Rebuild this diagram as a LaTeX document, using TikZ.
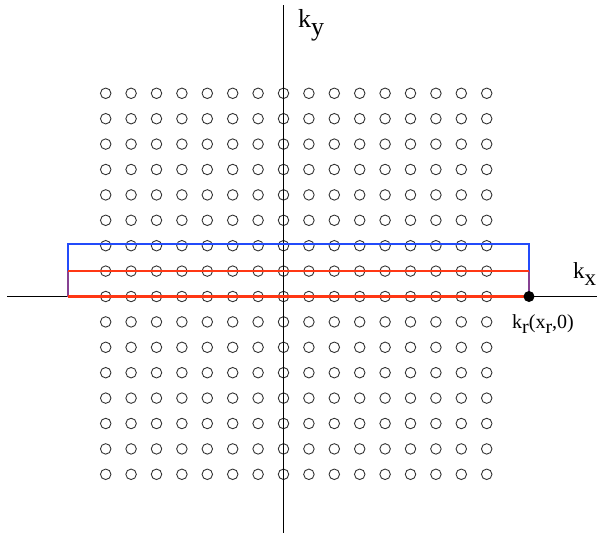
\documentclass[tikz,border=0pt]{standalone}
\usepackage{fontspec}
\setmainfont{Liberation Serif}
\definecolor{kblue}{RGB}{35,75,250}
\definecolor{kred}{RGB}{255,55,20}
\begin{document}
\begin{tikzpicture}[x=1pt,y=-1pt,
  lat/.style={circle,draw=black!80,line width=0.9pt,minimum size=10.5pt,inner sep=0pt},
  axisline/.style={black,line width=0.9pt},
  bluebox/.style={kblue,line width=2pt},
  redbox/.style={kred,line width=2pt},
  lbl/.style={inner sep=0pt,anchor=base west}]
\useasboundingbox (0,0) rectangle (599,536);
\foreach \i in {0,...,15}{\foreach \j in {0,...,15}{
  \node[lat] (c-\i-\j) at ({105.7+25.4*\i},{93.3+25.4*\j}) {};
}}
\coordinate (xl) at (7,296.5);
\coordinate (xr) at (597,296.5);
\coordinate (yt) at (283.5,5);
\coordinate (yb) at (283.5,533);
\draw[axisline] (xl) -- (xr);
\draw[axisline] (yt) -- (yb);
\coordinate (bl) at (68,296.5);
\coordinate (br) at (529,296.5);
\coordinate (btl) at (68,244);
\coordinate (btr) at (529,244);
\coordinate (rtl) at (68,271);
\coordinate (rtr) at (529,271);
\draw[bluebox] (bl) -- (btl) -- (btr) -- (br);
\draw[redbox] (rtl) -- (rtr);
\draw[kred,line width=2.6pt] (bl) -- (br);
\draw[kred,opacity=0.45,line width=2pt] (rtl) -- (bl) (rtr) -- (br);
\node[circle,fill=black,minimum size=11pt,inner sep=0pt] (kr) at (br) {};
\node[lbl,font=\fontsize{26}{26}\selectfont] (ky) at (298,27) {k\raisebox{-0.33em}{y}};
\node[lbl,font=\fontsize{23}{23}\selectfont] (kx) at (573,278) {k\raisebox{-0.33em}{x}};
\node[lbl,font=\fontsize{20}{20}\selectfont] (krl) at (512,328) {k\raisebox{-0.25em}{r}(x\raisebox{-0.25em}{r},0)};
\end{tikzpicture}
\end{document}
